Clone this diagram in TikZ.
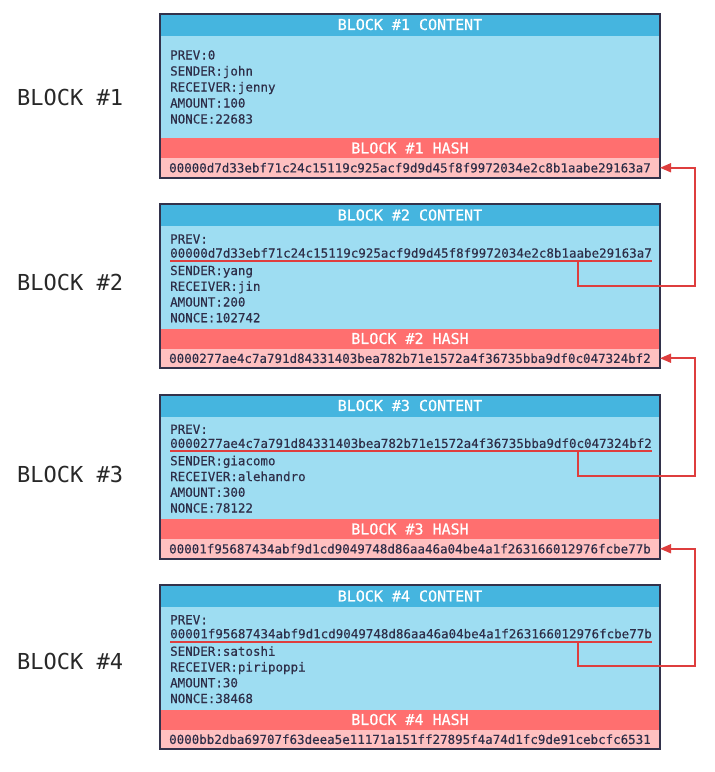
\documentclass[tikz,border=0pt]{standalone}
\usepackage{fontspec}
\usetikzlibrary{arrows.meta,calc}
\newfontfamily\monofont{DejaVu Sans Mono}
\newfontface\monomed{DejaVu Sans Mono}[FakeBold=0.35]
\newfontface\monohead{DejaVu Sans Mono}[FakeBold=0.6]
\definecolor{hdrblue}{RGB}{69,181,223}
\definecolor{bodyblue}{RGB}{158,221,242}
\definecolor{hashred}{RGB}{255,111,111}
\definecolor{hashpink}{RGB}{255,192,192}
\definecolor{framecol}{RGB}{50,50,75}
\definecolor{textdark}{RGB}{46,46,72}
\definecolor{linkred}{RGB}{222,62,62}
\definecolor{labelcol}{RGB}{40,40,40}
\tikzset{
  band/.style={minimum width=500pt, inner sep=0pt, outer sep=0pt, draw=none},
  hdrband/.style={band, fill=hdrblue, minimum height=22pt, text=white,
     font=\monohead\fontsize{15}{18}\selectfont},
  bodyband/.style={band, fill=bodyblue, minimum height=102.5pt},
  redband/.style={band, fill=hashred, minimum height=20pt, text=white,
     font=\monohead\fontsize{15}{18}\selectfont},
  hashrow/.style={band, fill=hashpink, minimum height=19.5pt, text=textdark,
     font=\monomed\fontsize{12.5}{15}\selectfont},
  frame/.style={draw=framecol, line width=2pt},
  field/.style={anchor=base west, inner sep=0pt, text=textdark,
     font=\monomed\fontsize{12.5}{15}\selectfont},
  prevhash/.style={field, text depth=3.2pt},
  underl/.style={draw=linkred, line width=1.8pt},
  link/.style={draw=linkred, line width=1.6pt, -{Triangle[length=11pt,width=9pt]}},
  blocklabel/.style={anchor=base west, inner sep=0pt, text=labelcol,
     font=\monofont\fontsize{22}{26}\selectfont},
}
\begin{document}
\begin{tikzpicture}[x=1pt,y=-1pt]
\useasboundingbox (0,0) rectangle (715,772);
\fill[white] (0,0) rectangle (715,772);

% ---------- labels
\node[blocklabel] (l1) at (17,105) {BLOCK \#1};
\node[blocklabel] (l2) at (17,290) {BLOCK \#2};
\node[blocklabel] (l3) at (17,482) {BLOCK \#3};
\node[blocklabel] (l4) at (17,669) {BLOCK \#4};

% ---------- block 1 (top 13.5)
\node[hdrband]  (h1) at (410,24.5)  {BLOCK \#1 CONTENT};
\node[bodyband] (c1) at (410,86.75) {};
\node[redband]  (x1) at (410,148)   {BLOCK \#1 HASH};
\node[hashrow]  (r1) at (410,167.75) {00000d7d33ebf71c24c15119c925acf9d9d45f8f9972034e2c8b1aabe29163a7};
\draw[frame] (h1.north west) rectangle (r1.south east);
\node[field] (f1a) at (170,59.5)  {PREV:0};
\node[field] (f1b) at (170,75.5)  {SENDER:john};
\node[field] (f1c) at (170,91.5)  {RECEIVER:jenny};
\node[field] (f1d) at (170,107.5) {AMOUNT:100};
\node[field] (f1e) at (170,123.5) {NONCE:22683};

% ---------- block 2 (top 204)
\node[hdrband]  (h2) at (410,215)    {BLOCK \#2 CONTENT};
\node[bodyband] (c2) at (410,277.25) {};
\node[redband]  (x2) at (410,338.5)  {BLOCK \#2 HASH};
\node[hashrow]  (r2) at (410,358.25) {0000277ae4c7a791d84331403bea782b71e1572a4f36735bba9df0c047324bf2};
\draw[frame] (h2.north west) rectangle (r2.south east);
\node[field]    (f2a) at (170,243.5)  {PREV:};
\node[prevhash] (p2)  at (170,257.6)  {00000d7d33ebf71c24c15119c925acf9d9d45f8f9972034e2c8b1aabe29163a7};
\node[field]    (f2b) at (170,275)    {SENDER:yang};
\node[field]    (f2c) at (170,290.75) {RECEIVER:jin};
\node[field]    (f2d) at (170,306.5)  {AMOUNT:200};
\node[field]    (f2e) at (170,322.25) {NONCE:102742};
\draw[underl] (p2.south west) -- (p2.south east);

% ---------- block 3 (top 394.5)
\node[hdrband]  (h3) at (410,405.5)  {BLOCK \#3 CONTENT};
\node[bodyband] (c3) at (410,467.75) {};
\node[redband]  (x3) at (410,529)    {BLOCK \#3 HASH};
\node[hashrow]  (r3) at (410,548.75) {00001f95687434abf9d1cd9049748d86aa46a04be4a1f263166012976fcbe77b};
\draw[frame] (h3.north west) rectangle (r3.south east);
\node[field]    (f3a) at (170,433.75) {PREV:};
\node[prevhash] (p3)  at (170,447.9)  {0000277ae4c7a791d84331403bea782b71e1572a4f36735bba9df0c047324bf2};
\node[field]    (f3b) at (170,465.25) {SENDER:giacomo};
\node[field]    (f3c) at (170,481)    {RECEIVER:alehandro};
\node[field]    (f3d) at (170,496.75) {AMOUNT:300};
\node[field]    (f3e) at (170,512.5)  {NONCE:78122};
\draw[underl] (p3.south west) -- (p3.south east);

% ---------- block 4 (top 585)
\node[hdrband]  (h4) at (410,596)    {BLOCK \#4 CONTENT};
\node[bodyband] (c4) at (410,658.25) {};
\node[redband]  (x4) at (410,719.5)  {BLOCK \#4 HASH};
\node[hashrow]  (r4) at (410,739.25) {0000bb2dba69707f63deea5e11171a151ff27895f4a74d1fc9de91cebcfc6531};
\draw[frame] (h4.north west) rectangle (r4.south east);
\node[field]    (f4a) at (170,624.25) {PREV:};
\node[prevhash] (p4)  at (170,638.3)  {00001f95687434abf9d1cd9049748d86aa46a04be4a1f263166012976fcbe77b};
\node[field]    (f4b) at (170,655.75) {SENDER:satoshi};
\node[field]    (f4c) at (170,671.5)  {RECEIVER:piripoppi};
\node[field]    (f4d) at (170,687.25) {AMOUNT:30};
\node[field]    (f4e) at (170,703)    {NONCE:38468};
\draw[underl] (p4.south west) -- (p4.south east);

% ---------- links
\coordinate (k2) at (695,285.7);
\coordinate (k3) at (695,475.7);
\coordinate (k4) at (695,665.7);
\draw[link] ($(p2.south west)!0.846!(p2.south east)$) |- (k2) |- (r1.east);
\draw[link] ($(p3.south west)!0.846!(p3.south east)$) |- (k3) |- (r2.east);
\draw[link] ($(p4.south west)!0.846!(p4.south east)$) |- (k4) |- (r3.east);
\end{tikzpicture}
\end{document}
